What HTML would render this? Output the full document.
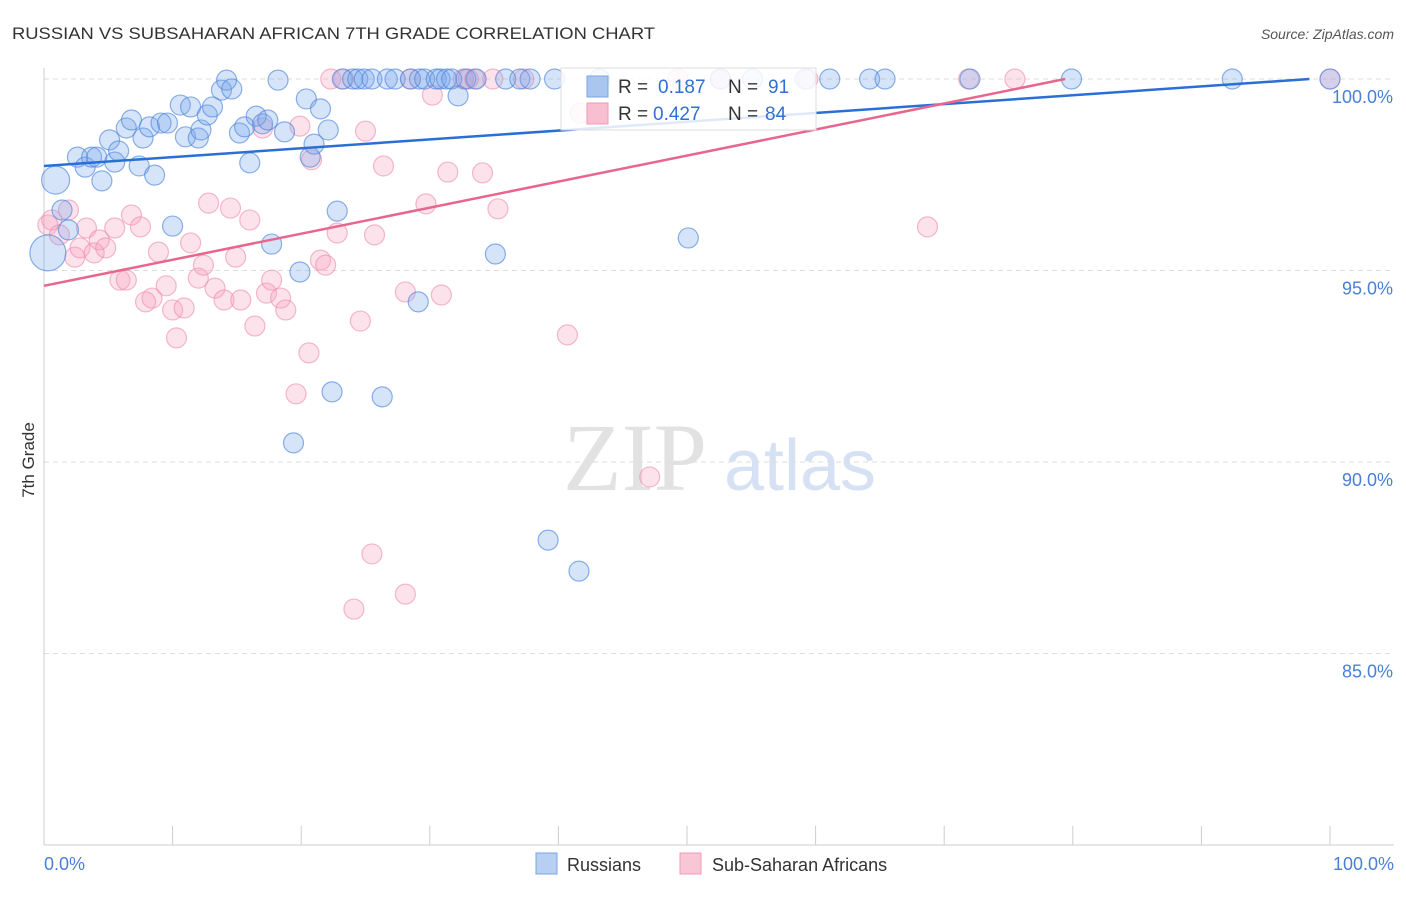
<!DOCTYPE html>
<html><head><meta charset="utf-8"><style>
body{margin:0;background:#fff;font-family:"Liberation Sans",sans-serif;}
</style></head><body>
<svg width="1406" height="892" viewBox="0 0 1406 892" xmlns="http://www.w3.org/2000/svg">
<text x="12" y="39" font-size="17" fill="#333" textLength="643" lengthAdjust="spacingAndGlyphs">RUSSIAN VS SUBSAHARAN AFRICAN 7TH GRADE CORRELATION CHART</text>
<text x="1394" y="39" font-size="14" fill="#555" font-style="italic" text-anchor="end">Source: ZipAtlas.com</text>
<g>
<text x="635" y="490" font-size="96" fill="#e2e2e2" font-family="Liberation Serif" text-anchor="middle">ZIP</text>
<text x="800" y="490" font-size="72" fill="#d6e2f4" text-anchor="middle">atlas</text>
</g>
<g id="grid"></g>
<g id="axes"></g>
<g id="pts"></g>
<g id="trend"></g>
<text transform="translate(34,460) rotate(-90)" font-size="17" fill="#333" text-anchor="middle">7th Grade</text>
<text x="44" y="870" font-size="18" fill="#4a7fd6">0.0%</text>
<text x="1394" y="870" font-size="18" fill="#4a7fd6" text-anchor="end">100.0%</text>
<g>
<rect x="561" y="68" width="255" height="62" fill="#fff" fill-opacity="0.85" stroke="#ddd"/>
<rect x="587" y="76" width="21" height="21" fill="#a9c6ef" stroke="#7ba3e3"/>
<text x="618" y="93" font-size="19" fill="#333">R = </text><text x="658" y="93" font-size="19" fill="#2f6fd6">0.187</text>
<text x="728" y="93" font-size="19" fill="#333">N = </text><text x="768" y="93" font-size="19" fill="#2f6fd6">91</text>
<rect x="587" y="103" width="21" height="21" fill="#f8bfd0" stroke="#f09ab5"/>
<text x="618" y="120" font-size="19" fill="#333">R = </text><text x="653" y="120" font-size="19" fill="#2f6fd6">0.427</text>
<text x="728" y="120" font-size="19" fill="#333">N = </text><text x="765" y="120" font-size="19" fill="#2f6fd6">84</text>
</g>
<g>
<rect x="536" y="853" width="21" height="21" fill="#b6cff2" stroke="#7ba3e3"/>
<text x="567" y="871" font-size="18" fill="#333">Russians</text>
<rect x="680" y="853" width="21" height="21" fill="#f9c6d5" stroke="#f09ab5"/>
<text x="712" y="871" font-size="18" fill="#333">Sub-Saharan Africans</text>
</g>
</svg>
<script>
const yTicks=[100,95,90,85];
const yTickLabels=["100.0%","95.0%","90.0%","85.0%"];
const blueX=[0.9,1.4,1.9,2.6,3.2,3.7,4.1,4.5,5.1,5.5,5.8,6.4,6.8,7.4,7.7,8.2,8.6,9.1,9.6,10.0,10.6,11.0,11.4,12.0,12.2,12.7,13.1,13.8,14.2,14.6,15.2,15.6,16.0,16.5,17.0,17.4,17.7,18.2,18.7,19.4,19.9,20.4,20.7,21.0,21.5,22.1,22.4,22.8,23.2,24.0,24.4,24.9,25.5,26.3,26.7,27.3,28.5,29.1,29.2,29.6,30.5,30.8,31.3,31.7,32.2,32.8,33.6,35.1,35.9,37.0,37.8,39.2,39.7,41.6,43.2,50.1,52.6,55.1,59.2,61.1,64.2,65.4,72.0,79.9,92.4,100,0.3];
const blueY=[97.36,96.58,96.06,97.96,97.70,97.96,97.96,97.34,98.41,97.83,98.12,98.72,98.93,97.73,98.46,98.75,97.49,98.85,98.85,96.16,99.32,98.49,99.27,98.46,98.67,99.06,99.27,99.71,99.97,99.74,98.59,98.75,97.81,99.03,98.83,98.93,95.69,99.97,98.62,90.50,94.96,99.48,97.96,98.30,99.22,98.67,91.83,96.55,100,100,100,100,100,91.70,100,100,100,94.18,100,100,100,100,100,100,99.56,100,100,95.43,100,100,100,87.96,100,87.15,100,95.85,100,100,100,100,100,100,100,100,100,100,95.46];
const blueR=[14,10,10,10,10,10,10,10,10,10,10,10,10,10,10,10,10,10,10,10,10,10,10,10,10,10,10,10,10,10,10,10,10,10,10,10,10,10,10,10,10,10,10,10,10,10,10,10,10,10,10,10,10,10,10,10,10,10,10,10,10,10,10,10,10,10,10,10,10,10,10,10,10,10,10,10,10,10,10,10,10,10,10,10,10,10,18];
const pinkX=[0.3,0.6,1.2,1.9,2.4,2.8,3.3,3.9,4.3,4.8,5.5,5.9,6.4,6.8,7.5,7.9,8.4,8.9,9.5,10.0,10.3,10.9,11.4,12.0,12.4,12.8,13.3,14.0,14.5,14.9,15.3,16.0,16.4,17.0,17.3,17.7,18.4,18.8,19.6,19.9,20.6,20.8,21.5,21.9,22.3,22.8,23.3,24.1,24.6,25.0,25.5,25.7,26.4,28.1,28.1,28.5,29.7,30.2,30.9,31.4,32.6,33.0,33.5,34.1,34.9,35.3,37.3,40.7,41.7,47.1,49.3,52.6,59.4,68.7,71.9,75.5,100];
const pinkY=[96.19,96.32,95.93,96.58,95.35,95.59,96.11,95.46,95.80,95.59,96.11,94.75,94.75,96.45,96.14,94.18,94.28,95.48,94.60,93.97,93.24,94.02,95.72,94.80,95.14,96.76,94.54,94.23,96.63,95.35,94.23,96.32,93.55,98.72,94.41,94.75,94.28,93.97,91.78,98.77,92.85,97.89,95.27,95.14,100,95.98,100,86.16,93.68,98.64,87.60,95.93,97.73,94.44,86.55,100,96.74,99.58,94.36,97.57,100,100,100,97.55,100,96.61,100,93.32,99.11,89.61,100,100,100,96.14,100,100,100];
const blueTrend=[[0,97.73],[98.4,100]];
const pinkTrend=[[0,94.6],[79.4,100]];
const NS="http://www.w3.org/2000/svg";
const X0=44,X1=1330,Y100=79,PXPER=38.3;
function sx(v){return X0+(X1-X0)*v/100;}
function sy(v){return Y100+(100-v)*PXPER;}
function mk(t,a,p){const e=document.createElementNS(NS,t);for(const k in a)e.setAttribute(k,a[k]);p.appendChild(e);return e;}
const grid=document.getElementById('grid');
yTicks.forEach((t,i)=>{
 const l=mk('line',{x1:44,x2:1394,y1:sy(t),y2:sy(t),stroke:'#ddd','stroke-dasharray':'5,4'},grid);
 
 
 const tx=mk('text',{x:1393,y:sy(t)+24,'font-size':18,fill:'#4a7fd6','text-anchor':'end'},grid);
 tx.textContent=yTickLabels[i];
 
 
});
const axes=document.getElementById('axes');
const ya=mk('line',{x1:44,x2:44,y1:68,y2:845,stroke:'#ccc'},axes);


const xa=mk('line',{x1:44,x2:1394,y1:845,y2:845,stroke:'#ccc'},axes);


for(let i=0;i<=10;i++){
 const tk=mk('line',{x1:sx(i*10),x2:sx(i*10),y1:826,y2:845,stroke:'#ccc'},axes);
 
 
}
const pts=document.getElementById('pts');
pinkX.forEach((x,i)=>{
 const c=mk('circle',{cx:sx(x),cy:sy(pinkY[i]),r:10,fill:'rgba(245,160,188,0.3)',stroke:'rgba(238,140,172,0.6)','stroke-width':1.2},pts);
 
 
});
blueX.forEach((x,i)=>{
 const c=mk('circle',{cx:sx(x),cy:sy(blueY[i]),r:blueR[i],fill:'rgba(120,165,235,0.3)',stroke:'rgba(80,135,220,0.65)','stroke-width':1.2},pts);
 
 
});
const tr=document.getElementById('trend');
const bl=mk('line',{x1:sx(blueTrend[0][0]),y1:sy(blueTrend[0][1]),x2:sx(blueTrend[1][0]),y2:sy(blueTrend[1][1]),stroke:'#2a6fd6','stroke-width':2.5},tr);


const pl=mk('line',{x1:sx(pinkTrend[0][0]),y1:sy(pinkTrend[0][1]),x2:sx(pinkTrend[1][0]),y2:sy(pinkTrend[1][1]),stroke:'#e8668e','stroke-width':2.5},tr);


</script>
</body></html>
